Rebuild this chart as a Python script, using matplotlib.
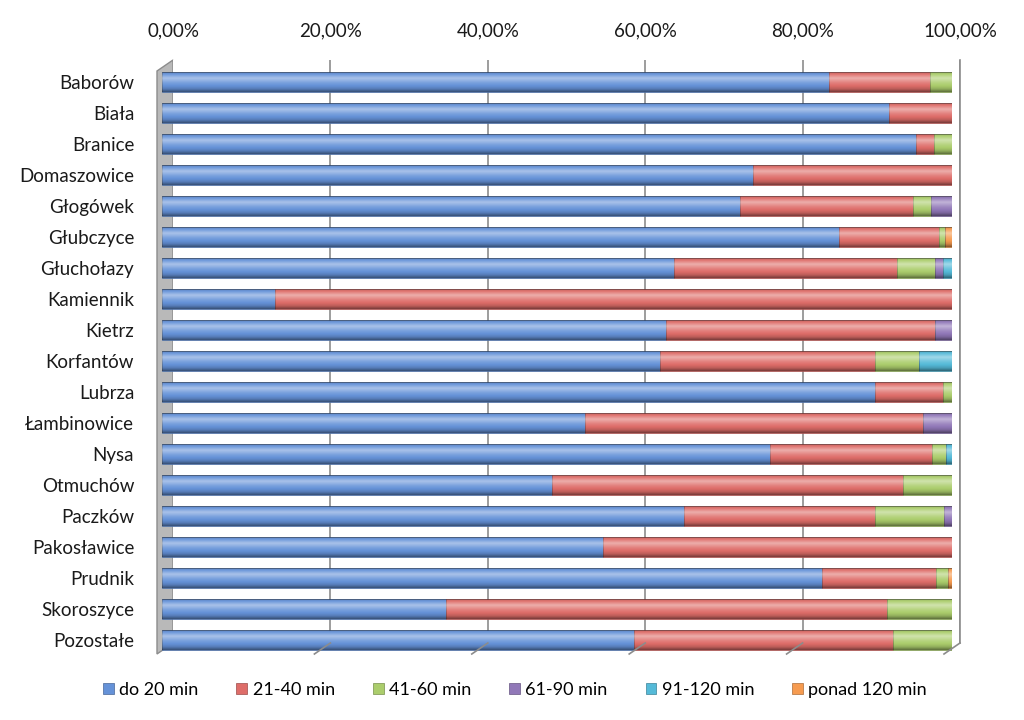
import numpy as np
import matplotlib
matplotlib.use("Agg")
import matplotlib.pyplot as plt
from matplotlib.patches import Polygon
from matplotlib.lines import Line2D
from matplotlib.colors import to_rgb

plt.rcParams['font.family'] = ['Lato', 'DejaVu Sans']

# ---- data (share of trips, %) ----
gminy = ["Baborów", "Biała", "Branice", "Domaszowice", "Głogówek", "Głubczyce",
         "Głuchołazy", "Kamiennik", "Kietrz", "Korfantów", "Lubrza", "Łambinowice",
         "Nysa", "Otmuchów", "Paczków", "Pakosławice", "Prudnik", "Skoroszyce",
         "Pozostałe"]
kategorie = ["do 20 min", "21-40 min", "41-60 min", "61-90 min", "91-120 min", "ponad 120 min"]

do20   = [84.4, 92.0, 95.5, 74.8, 73.2, 85.7, 64.8, 14.3, 63.8, 63.0, 90.3, 53.5, 76.9, 49.4, 66.1, 55.8, 83.6, 35.9, 59.7]
m21_40 = [12.8,  8.0,  2.2, 25.2, 21.8, 12.7, 28.2, 85.7, 34.0, 27.3,  8.6, 42.8, 20.6, 44.4, 24.2, 44.2, 14.4, 55.9, 32.8]
m41_60 = [ 2.8,  0.0,  2.3,  0.0,  2.4,  0.7,  4.8,  0.0,  0.0,  5.5,  1.1,  0.0,  1.8,  6.2,  8.7,  0.0,  1.5,  8.2,  7.5]
m61_90 = [ 0.0,  0.0,  0.0,  0.0,  2.6,  0.0,  1.1,  0.0,  2.2,  0.0,  0.0,  3.7,  0.0,  0.0,  1.0,  0.0,  0.0,  0.0,  0.0]
m91_120= [ 0.0,  0.0,  0.0,  0.0,  0.0,  0.0,  1.1,  0.0,  0.0,  4.2,  0.0,  0.0,  0.7,  0.0,  0.0,  0.0,  0.0,  0.0,  0.0]
m120   = [ 0.0,  0.0,  0.0,  0.0,  0.0,  0.9,  0.0,  0.0,  0.0,  0.0,  0.0,  0.0,  0.0,  0.0,  0.0,  0.0,  0.5,  0.0,  0.0]

series = [do20, m21_40, m41_60, m61_90, m91_120, m120]
kolory = ["#6592d8", "#de6d69", "#abcd6c", "#9178b8", "#55bad8", "#f69b50"]

W, H = 1024, 720
fig = plt.figure(figsize=(W / 100, H / 100), dpi=100)

def px(x0, y0, x1, y1):
    return [x0 / W, 1 - y1 / H, (x1 - x0) / W, (y1 - y0) / H]

# back wall with gridlines and labels
ax_bg = fig.add_axes(px(173, 60, 960, 643))
ax_bg.set_xlim(0, 1)
ax_bg.set_ylim(0, 1)
ticks = np.arange(0, 1.01, 0.2)
ax_bg.set_xticks(ticks)
ax_bg.set_xticklabels([f"{t*100:.2f}%".replace(".", ",") for t in ticks], fontsize=13.5, color="#1a1a1a")
ax_bg.xaxis.tick_top()
ax_bg.tick_params(axis="x", length=0, pad=15)
ax_bg.set_yticks([])
for t in ticks[1:]:
    ax_bg.axvline(t, color="#8c8c8c", lw=1.2)
for s in ["left", "top", "bottom"]:
    ax_bg.spines[s].set_visible(False)
ax_bg.spines["right"].set_color("#8c8c8c")
ax_bg.spines["right"].set_linewidth(1.2)

# left wall + floor ticks (3D look)
dx, dy = -16 / W, -11 / H
b = ax_bg.get_position()
wall = Polygon([(b.x0, b.y1), (b.x0 + dx, b.y1 + dy), (b.x0 + dx, b.y0 + dy), (b.x0, b.y0)],
               closed=True, facecolor="#b9b9b9", edgecolor="#8c8c8c", lw=1.0,
               transform=fig.transFigure, zorder=0)
fig.add_artist(wall)
for t in ticks[1:]:
    xf = b.x0 + t * b.width
    fig.add_artist(Line2D([xf, xf + dx], [b.y0, b.y0 + dy], color="#8c8c8c", lw=1.2,
                          transform=fig.transFigure))

# bars
ax = fig.add_axes(px(162, 66.5, 952, 655.5))
ax.patch.set_alpha(0)
y = np.arange(len(gminy))
h = 0.64

knots = [0.0, 0.07, 0.3, 0.55, 0.85, 1.0]
shade = [-0.35, 0.0, 0.45, 0.12, -0.15, -0.45]
tt = np.linspace(0, 1, 40)
s = np.interp(tt, knots, shade)
grad = np.zeros((40, 1, 4))
grad[:, 0, :3] = (s > 0)[:, None] * 1.0
grad[:, 0, 3] = np.abs(s)

left = np.zeros(len(gminy))
last_col = [None] * len(gminy)
for vals, kol, nazwa in zip(series, kolory, kategorie):
    v = np.array(vals) / 100.0
    ec = tuple(c * 0.7 for c in to_rgb(kol))
    ax.barh(y, v, left=left, height=h, color=kol, edgecolor=ec, lw=0.5, label=nazwa, zorder=2)
    for i in range(len(gminy)):
        if v[i] > 0:
            last_col[i] = kol
    left = left + v

for i in range(len(gminy)):
    ax.imshow(grad, extent=(0, left[i], y[i] + h / 2, y[i] - h / 2), aspect="auto",
              interpolation="bilinear", zorder=3)
    cap = tuple(c * 0.6 for c in to_rgb(last_col[i]))
    ax.barh(y[i], 0.006, left=left[i], height=h, color=cap, lw=0, zorder=3)

ax.set_xlim(0, 1)
ax.set_ylim(len(gminy) - 0.5, -0.5)
ax.set_xticks([])
ax.set_yticks(y)
ax.set_yticklabels(gminy, fontsize=13.5, color="#1a1a1a")
ax.tick_params(axis="y", length=0, pad=20)
for sp in ax.spines.values():
    sp.set_visible(False)

handles, labels = ax.get_legend_handles_labels()
fig.legend(handles, labels, loc="center", bbox_to_anchor=(0.503, 0.042), ncol=6,
           frameon=False, fontsize=13, handlelength=0.6, handleheight=0.6,
           columnspacing=2.1, handletextpad=0.3)

fig.savefig("out.png", dpi=100)
